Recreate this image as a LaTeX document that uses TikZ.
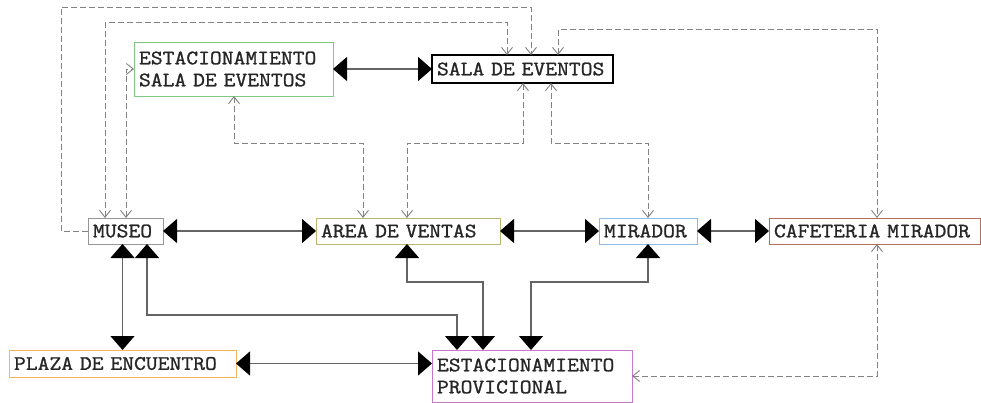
\documentclass[tikz,border=0pt]{standalone}
\usepackage{fontspec}
\setmainfont{Latin Modern Mono}[FakeStretch=1.12, FakeBold=1.2]
\usetikzlibrary{arrows.meta}
\definecolor{cMuseo}{RGB}{150,150,150}
\definecolor{cEse}{RGB}{130,200,130}
\definecolor{cArea}{RGB}{180,185,110}
\definecolor{cMir}{RGB}{140,185,230}
\definecolor{cCafe}{RGB}{180,110,95}
\definecolor{cPlaza}{RGB}{245,180,90}
\definecolor{cProv}{RGB}{200,120,200}
\definecolor{cSol}{RGB}{100,100,100}
\definecolor{cDash}{RGB}{130,130,130}
\tikzset{
  box/.style={rectangle, anchor=north west, inner xsep=5pt, inner ysep=0pt, outer sep=0pt,
    line width=0.7pt, align=left, fill=white, text=black!85,
    font=\fontsize{20.5}{22}\selectfont},
  sol/.style={draw=cSol, line width=1.4pt,
    {Triangle[length=14pt,width=24pt,color=black]}-{Triangle[length=14pt,width=24pt,color=black]}},
  dsh/.style={draw=cDash, line width=0.9pt, dash pattern=on 6pt off 3pt},
  barb/.style={-{Straight Barb[length=7pt,width=11pt]}},
  bbarb/.style={{Straight Barb[length=7pt,width=11pt]}-{Straight Barb[length=7pt,width=11pt]}}
}
\begin{document}
\begin{tikzpicture}[x=1pt,y=-1pt]
\useasboundingbox (0,0) rectangle (981,403);
% nodes
\node[box, draw=cEse, text width=189pt, minimum height=54pt] (ese) at (134,42) {\mbox{ESTACIONAMIENTO}\\\mbox{SALA DE EVENTOS}};
\node[box, draw=black, line width=1.3pt, text width=171pt, minimum height=28pt] (sala) at (432,55) {\mbox{SALA DE EVENTOS}};
\node[box, draw=cMuseo, text width=65pt, minimum height=26pt] (museo) at (88,218) {\mbox{MUSEO}};
\node[box, draw=cArea, text width=174pt, minimum height=26pt] (area) at (316,218) {\mbox{AREA DE VENTAS}};
\node[box, draw=cMir, text width=88pt, minimum height=26pt] (mirador) at (599,218) {\mbox{MIRADOR}};
\node[box, draw=cCafe, text width=201pt, minimum height=26pt] (cafe) at (769,218) {\mbox{CAFETERIA MIRADOR}};
\node[box, draw=cPlaza, text width=217pt, minimum height=27pt] (plaza) at (9,350) {\mbox{PLAZA DE ENCUENTRO}};
\node[box, draw=cProv, text width=190pt, minimum height=52pt] (prov) at (432,350) {\mbox{ESTACIONAMIENTO}\\\mbox{PROVICIONAL}};
% helper coordinates
\coordinate (m1) at ([xshift=34.5pt]museo.south west);
\coordinate (m2) at ([xshift=59pt]museo.south west);
\coordinate (m3) at ([xshift=17pt]museo.north west);
\coordinate (m4) at ([xshift=38pt]museo.north west);
\coordinate (a1) at ([xshift=91pt]area.south west);
\coordinate (a2) at ([xshift=47pt]area.north west);
\coordinate (a3) at ([xshift=91pt]area.north west);
\coordinate (p1) at ([xshift=25pt]prov.north west);
\coordinate (p2) at ([xshift=51pt]prov.north west);
\coordinate (p3) at ([xshift=99pt]prov.north west);
\coordinate (s1) at ([xshift=99pt]sala.north west);
\coordinate (s2) at ([xshift=75pt]sala.north west);
\coordinate (s3) at ([xshift=91pt]sala.south west);
\coordinate (s4) at ([xshift=119pt]sala.south west);
\coordinate (s5) at ([xshift=126pt]sala.north west);
\coordinate (e1) at ([xshift=100pt]ese.south west);
\coordinate (f1) at ([xshift=108pt]cafe.north west);
\coordinate (f2) at ([xshift=108pt]cafe.south west);
\coordinate (c1) at (61,7);
\coordinate (yT2) at (0,22.5);
\coordinate (yT3) at (0,29.5);
\coordinate (yC) at (0,143);
\coordinate (yA) at (0,315);
\coordinate (yB) at (0,282);
% solid connectors
\draw[sol] (ese.east) -- (sala.west);
\draw[sol] (museo.east) -- (area.west);
\draw[sol] (area.east) -- (mirador.west);
\draw[sol] (mirador.east) -- (cafe.west);
\draw[sol] (plaza.east) -- (plaza.east -| prov.west);
\draw[sol] (m1) -- (m1 |- plaza.north);
\draw[sol] (m2) -- (m2 |- yA) -- (p1 |- yA) -- (p1);
\draw[sol] (a1) -- (a1 |- yB) -- (p2 |- yB) -- (p2);
\draw[sol] (mirador.south) -- (mirador.south |- yB) -- (p3 |- yB) -- (p3);
% dashed connectors
\draw[dsh, barb] (museo.west) -| (c1) -| (s1);
\draw[dsh, bbarb] (m3) -- (m3 |- yT2) -| (s2);
\draw[dsh, bbarb] (m4) |- (ese.west);
\draw[dsh, bbarb] (e1) -- (e1 |- yC) -| (a2);
\draw[dsh, bbarb] (s3) -- (s3 |- yC) -| (a3);
\draw[dsh, bbarb] (s4) -- (s4 |- yC) -| (mirador.north);
\draw[dsh, bbarb] (s5) -- (s5 |- yT3) -| (f1);
\draw[dsh, bbarb] (f2) |- (prov.east);
\end{tikzpicture}
\end{document}
